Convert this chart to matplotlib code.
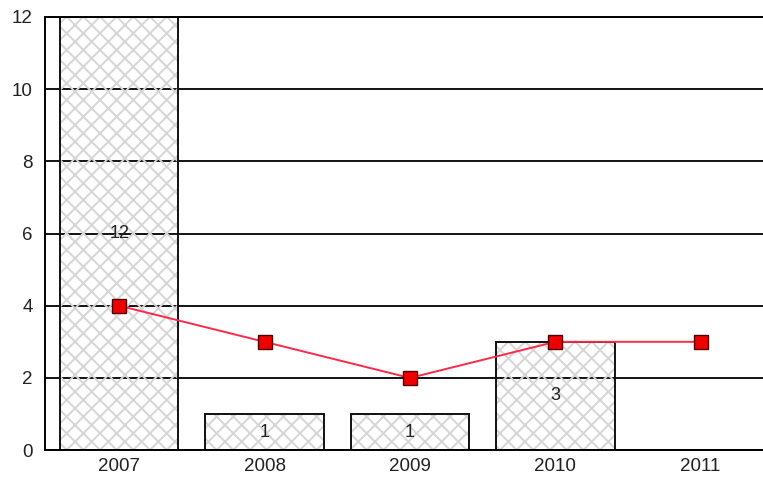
import matplotlib.pyplot as plt
import matplotlib as mpl

mpl.rcParams['font.family'] = ['Liberation Sans', 'DejaVu Sans']
mpl.rcParams['hatch.linewidth'] = 1.4

# data
years = ["2007", "2008", "2009", "2010", "2011"]
bar_years = ["2007", "2008", "2009", "2010"]
bar_values = [12, 1, 1, 3]
line_values = [4, 3, 2, 3, 3]

fig = plt.figure(figsize=(7.63, 4.84), dpi=100)
ax = fig.add_axes([0.059, 0.070, 0.945, 0.895])

x_all = list(range(len(years)))
x_bars = [years.index(y) for y in bar_years]

# grid lines behind everything
ax.set_axisbelow(True)
ax.yaxis.grid(True, color='black', linewidth=1.3)

# hatch layer (light grey), then outline layer
ax.bar(x_bars, bar_values, width=0.815, facecolor='none',
       edgecolor='#d6d6d6', linewidth=0, hatch='xx', zorder=2)
bars = ax.bar(x_bars, bar_values, width=0.815, facecolor='none',
              edgecolor='#111111', linewidth=1.4, zorder=2.5)
for b, v in zip(bars, bar_values):
    ax.text(b.get_x() + b.get_width() / 2, v / 2, str(v), ha='center', va='center',
            fontsize=13, color='#222222', zorder=3)

# line series
ax.plot(x_all, line_values, color='#ff2a4a', linewidth=1.4, marker='s',
        markersize=10, markerfacecolor='#ee0000', markeredgecolor='#550000',
        markeredgewidth=1.0, zorder=4)

ax.set_ylim(0, 12)
ax.set_yticks(range(0, 13, 2))
ax.set_xlim(-0.51, 4.45)
ax.set_xticks(x_all)
ax.set_xticklabels(years)
ax.tick_params(length=0, labelsize=13.5, colors='#222222')
ax.tick_params(axis='y', pad=9)
ax.tick_params(axis='x', pad=6)

for side in ['left', 'top', 'bottom']:
    ax.spines[side].set_linewidth(1.4)
ax.spines['right'].set_visible(False)

fig.savefig("out.png", dpi=100)
